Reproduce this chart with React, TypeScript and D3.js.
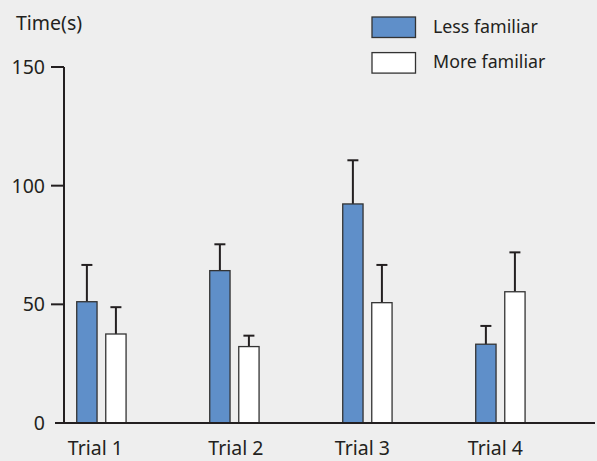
import React from "react";
import * as d3 from "d3";

const trials = ["Trial 1", "Trial 2", "Trial 3", "Trial 4"];
const seriesNames = ["Less familiar", "More familiar"];
const lessMeans = [51.1, 64.2, 92.3, 33.2];
const lessUpper = [66.6, 75.3, 110.7, 40.9];
const moreMeans = [37.5, 32.2, 50.7, 55.3];
const moreUpper = [48.8, 36.8, 66.6, 71.9];
const yTicks = [0, 50, 100, 150];

const W = 597;
const H = 461;
const FONT = "'Noto Sans', 'Open Sans', sans-serif";
const TXT = "#231f20";
const BLUE = "#5f8fc9";

export default function App() {
  const y = d3.scaleLinear().domain([0, 150]).range([423, 67]);
  const x0 = d3
    .scaleBand<string>()
    .domain(trials)
    .range([34.9, 566.9])
    .paddingInner(0.629)
    .paddingOuter(0.3145);
  const x1 = d3
    .scaleBand<string>()
    .domain(seriesNames)
    .range([0, x0.bandwidth()])
    .paddingInner(0.3)
    .paddingOuter(0);
  const series = [
    { name: seriesNames[0], means: lessMeans, upper: lessUpper, fill: BLUE },
    { name: seriesNames[1], means: moreMeans, upper: moreUpper, fill: "#ffffff" },
  ];
  const bw = x1.bandwidth();
  const cap = 11;
  const labelShift = [-6, 1.5, -5, -5];

  return (
    <svg
      width={W}
      height={H}
      style={{ position: "absolute", left: 0, top: 0, background: "#eeeeee" }}
      fontFamily={FONT}
    >
      <rect x={0} y={0} width={W} height={H} fill="#eeeeee" />
      {/* title */}
      <text x={16} y={30} fontSize={19.5} fill={TXT}>
        Time(s)
      </text>
      {/* legend */}
      {series.map((s, i) => (
        <g key={s.name} transform={`translate(372, ${17 + i * 35.6})`}>
          <rect width={43.5} height={20.5} fill={s.fill} stroke="#333" strokeWidth={1.3} />
          <text x={61} y={15.5} fontSize={17.8} fill={TXT}>
            {s.name}
          </text>
        </g>
      ))}
      {/* bars */}
      {trials.map((t, ti) => (
        <g key={t} transform={`translate(${x0(t)},0)`}>
          {series.map((s) => {
            const bx = x1(s.name) as number;
            const top = y(s.means[ti]);
            const et = y(s.upper[ti]);
            const cx = bx + bw / 2;
            return (
              <g key={s.name}>
                <line x1={cx} x2={cx} y1={top} y2={et} stroke={TXT} strokeWidth={2} />
                <line x1={cx - cap / 2} x2={cx + cap / 2} y1={et} y2={et} stroke={TXT} strokeWidth={2} />
                <rect
                  x={bx}
                  y={top}
                  width={bw}
                  height={y(0) - top}
                  fill={s.fill}
                  stroke="#333"
                  strokeWidth={1.3}
                />
              </g>
            );
          })}
        </g>
      ))}
      {/* y axis */}
      <line x1={64} x2={64} y1={y(150)} y2={y(0)} stroke={TXT} strokeWidth={2} />
      {yTicks.map((v) => (
        <g key={v}>
          {v > 0 && <line x1={51} x2={64} y1={y(v)} y2={y(v)} stroke={TXT} strokeWidth={2} />}
          <text
            x={45}
            y={y(v)}
            dy="0.36em"
            textAnchor="end"
            fontSize={19.5}
            fill={TXT}
          >
            {v}
          </text>
        </g>
      ))}
      {/* x axis */}
      <line x1={55} x2={595} y1={y(0)} y2={y(0)} stroke={TXT} strokeWidth={2} />
      {trials.map((t, i) => (
        <text
          key={t}
          x={(x0(t) as number) + x0.bandwidth() / 2 + labelShift[i]}
          y={455}
          textAnchor="middle"
          fontSize={19.5}
          fill={TXT}
        >
          {t}
        </text>
      ))}
    </svg>
  );
}
